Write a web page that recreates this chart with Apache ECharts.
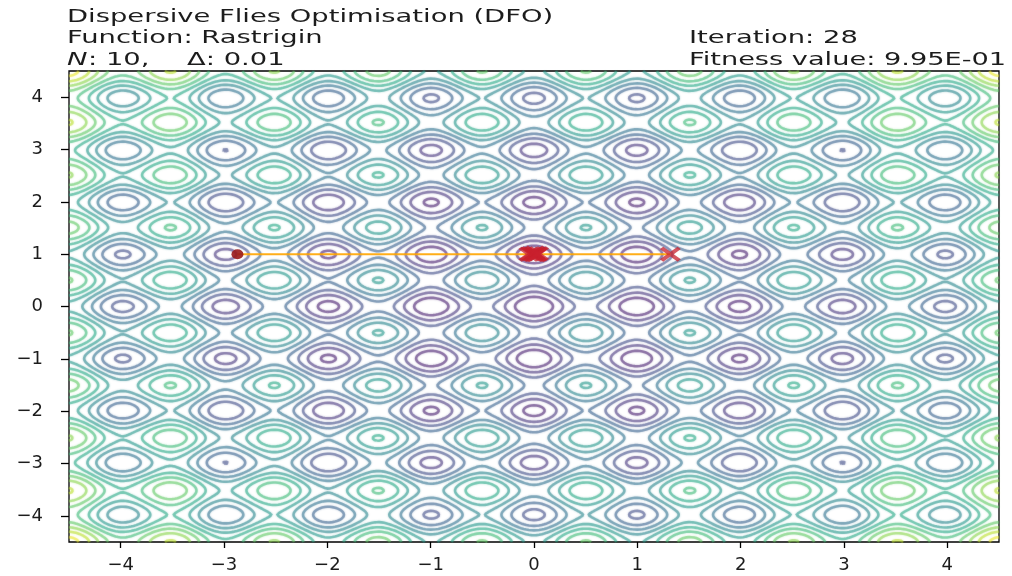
<!DOCTYPE html>
<html>
<head>
<meta charset="utf-8">
<script src="https://cdn.jsdelivr.net/npm/echarts@6/dist/echarts.min.js"></script>
<style>
  html, body { margin: 0; background: #fff; }
  #chart { width: 1012px; height: 576px; }
</style>
</head>
<body>
<div id="chart"></div>
<script>
// ── Data ────────────────────────────────────────────────────────────────
const xTicks = [-4, -3, -2, -1, 0, 1, 2, 3, 4];
const yTicks = [-4, -3, -2, -1, 0, 1, 2, 3, 4];
const domain = [-4.5, 4.5];
const rastriginA = 10;                     // Rastrigin constant
const contourLevels = [6, 12, 18, 24, 30, 36, 42, 48, 54, 60, 66, 72, 78];
const levelRange = [0, 80.5];
// fly positions at iteration 28 (first one drawn as a dot)
const flyX = [-2.87, -0.05, -0.03, -0.01, 0.0, 0.01, 0.02, 0.03, 0.045, 1.32];
const flyY = [1.0, 1.0, 1.01, 1.0, 0.995, 1.02, 0.99, 1.0, 1.01, 1.0];

// ── Style ───────────────────────────────────────────────────────────────
const fontFamily = '"DejaVu Sans", sans-serif';
const textColor = '#1c1c1c';
const viridis = ['#440154', '#482475', '#414487', '#355f8d', '#2a788e', '#21918c',
                 '#22a884', '#44bf70', '#7ad151', '#bddf26', '#fde725'];

function cmap(t) {
  t = Math.max(0, Math.min(1, t));
  const p = t * (viridis.length - 1);
  const i = Math.min(viridis.length - 2, Math.floor(p));
  const f = p - i;
  const a = viridis[i], b = viridis[i + 1];
  const ch = (s, k) => parseInt(s.substr(1 + 2 * k, 2), 16);
  const c = [0, 1, 2].map(k => Math.round(ch(a, k) + (ch(b, k) - ch(a, k)) * f));
  return 'rgb(' + c.join(',') + ')';
}

// ── Function surface on a grid ──────────────────────────────────────────
const N = 361;
const gx = [];
for (let i = 0; i < N; i++) gx.push(domain[0] + (domain[1] - domain[0]) * i / (N - 1));
const rastrigin = (x, y) =>
  2 * rastriginA + x * x - rastriginA * Math.cos(2 * Math.PI * x)
                 + y * y - rastriginA * Math.cos(2 * Math.PI * y);
const Z = gx.map(y => gx.map(x => rastrigin(x, y)));

// marching squares, chained into polylines
function contourPaths(level) {
  const pts = new Map();
  const adj = new Map();
  const link = (a, b) => {
    if (!adj.has(a)) adj.set(a, []);
    if (!adj.has(b)) adj.set(b, []);
    adj.get(a).push(b); adj.get(b).push(a);
  };
  const pt = (id, xa, ya, va, xb, yb, vb) => {
    if (!pts.has(id)) {
      const t = (level - va) / (vb - va);
      pts.set(id, [xa + t * (xb - xa), ya + t * (yb - ya)]);
    }
    return id;
  };
  for (let j = 0; j < N - 1; j++) {
    for (let i = 0; i < N - 1; i++) {
      const v0 = Z[j][i], v1 = Z[j][i + 1], v2 = Z[j + 1][i + 1], v3 = Z[j + 1][i];
      const c = (v0 > level ? 1 : 0) | (v1 > level ? 2 : 0) | (v2 > level ? 4 : 0) | (v3 > level ? 8 : 0);
      if (c === 0 || c === 15) continue;
      const x0 = gx[i], x1 = gx[i + 1], y0 = gx[j], y1 = gx[j + 1];
      const E = {};
      if ((c & 1) !== ((c >> 1) & 1)) E.B = pt((j * N + i) * 2, x0, y0, v0, x1, y0, v1);
      if (((c >> 1) & 1) !== ((c >> 2) & 1)) E.R = pt((j * N + i + 1) * 2 + 1, x1, y0, v1, x1, y1, v2);
      if (((c >> 3) & 1) !== ((c >> 2) & 1)) E.T = pt(((j + 1) * N + i) * 2, x0, y1, v3, x1, y1, v2);
      if ((c & 1) !== ((c >> 3) & 1)) E.L = pt((j * N + i) * 2 + 1, x0, y0, v0, x0, y1, v3);
      if (c === 5 || c === 10) {
        const centerAbove = (v0 + v1 + v2 + v3) / 4 > level;
        const cutV1V3 = (c === 5) === centerAbove;
        if (cutV1V3) { link(E.B, E.R); link(E.L, E.T); }
        else { link(E.L, E.B); link(E.R, E.T); }
      } else {
        const k = Object.values(E);
        link(k[0], k[1]);
      }
    }
  }
  const seen = new Set();
  const paths = [];
  const walk = (start) => {
    const path = [pts.get(start)];
    seen.add(start);
    let cur = start;
    for (;;) {
      const nx = adj.get(cur).find(k => !seen.has(k));
      if (nx === undefined) {
        if (adj.get(cur).includes(start) && path.length > 2) path.push(pts.get(start));
        break;
      }
      seen.add(nx); path.push(pts.get(nx)); cur = nx;
    }
    paths.push(path);
  };
  for (const [k, v] of adj) if (v.length === 1 && !seen.has(k)) walk(k);
  for (const k of adj.keys()) if (!seen.has(k)) walk(k);
  return paths;
}

const contourSeries = contourLevels.map(level => {
  const color = cmap((level - levelRange[0]) / (levelRange[1] - levelRange[0]));
  return {
    type: 'lines',
    coordinateSystem: 'cartesian2d',
    polyline: true,
    silent: true,
    z: 1,
    data: contourPaths(level).map(p => ({ coords: p })),
    lineStyle: { color, width: 2.6, opacity: 0.4, shadowBlur: 2, shadowColor: color }
  };
});

const crossPath = 'path://M0,1.6 L1.6,0 L5,3.4 L8.4,0 L10,1.6 L6.6,5 L10,8.4 L8.4,10 L5,6.6 L1.6,10 L0,8.4 L3.4,5 Z';
const fmt = v => (v < 0 ? '\u2212' + Math.abs(v) : String(v));

const chart = echarts.init(document.getElementById('chart'), null, { renderer: 'canvas' });
chart.setOption({
  animation: false,
  backgroundColor: '#fff',
  grid: { left: 69, right: 13, top: 71, bottom: 34, show: true,
          borderColor: '#000', borderWidth: 1.3, backgroundColor: 'transparent' },
  xAxis: {
    type: 'value', min: domain[0], max: domain[1],
    axisLine: { show: false, onZero: false },
    splitLine: { show: false },
    axisTick: { show: true, customValues: xTicks, length: 6, lineStyle: { color: '#000', width: 1.3 } },
    axisLabel: { customValues: xTicks, formatter: fmt, fontFamily, fontSize: 18,
                 color: textColor, margin: 14 }
  },
  yAxis: {
    type: 'value', min: domain[0], max: domain[1],
    axisLine: { show: false, onZero: false },
    splitLine: { show: false },
    axisTick: { show: true, customValues: yTicks, length: 8, lineStyle: { color: '#000', width: 1.3 } },
    axisLabel: { customValues: yTicks, formatter: fmt, fontFamily, fontSize: 18,
                 color: textColor, margin: 26 }
  },
  graphic: [
    { type: 'text', x: 67, y: 17.5, scaleX: 1.61, style: { text: 'Dispersive Flies Optimisation (DFO)', fontFamily, fontSize: 17, fill: textColor, verticalAlign: 'middle' } },
    { type: 'text', x: 67, y: 39, scaleX: 1.61, style: { text: 'Function: Rastrigin', fontFamily, fontSize: 17, fill: textColor, verticalAlign: 'middle' } },
    { type: 'text', x: 67, y: 60.5, scaleX: 1.61, style: { text: 'N', fontFamily, fontSize: 17, fontStyle: 'italic', fill: textColor, verticalAlign: 'middle' } },
    { type: 'text', x: 88, y: 60.5, scaleX: 1.61, style: { text: ': 10,', fontFamily, fontSize: 17, fill: textColor, verticalAlign: 'middle' } },
    { type: 'text', x: 187, y: 60.5, scaleX: 1.61, style: { text: '\u0394: 0.01', fontFamily, fontSize: 17, fill: textColor, verticalAlign: 'middle' } },
    { type: 'text', x: 689, y: 39, scaleX: 1.61, style: { text: 'Iteration: 28', fontFamily, fontSize: 17, fill: textColor, verticalAlign: 'middle' } },
    { type: 'text', x: 689, y: 60.5, scaleX: 1.6, style: { text: 'Fitness value: 9.95E-01', fontFamily, fontSize: 17, fill: textColor, verticalAlign: 'middle' } }
  ],
  series: contourSeries.concat([
    {
      type: 'line', z: 3, silent: true,
      data: flyX.map((x, i) => [x, flyY[i]]),
      showSymbol: false,
      lineStyle: { color: '#ffa500', width: 2, opacity: 0.9 }
    },
    {
      type: 'scatter', z: 4, silent: true,
      data: flyX.slice(1).map((x, i) => [x, flyY[i + 1]]),
      symbol: crossPath, symbolSize: [21, 15],
      itemStyle: { color: '#c8202e', opacity: 0.75 }
    },
    {
      type: 'scatter', z: 4, silent: true,
      data: [[flyX[0], flyY[0]]],
      symbol: 'circle', symbolSize: [12, 10],
      itemStyle: { color: '#9a1a1a', opacity: 0.9 }
    }
  ])
});
</script>
</body>
</html>
